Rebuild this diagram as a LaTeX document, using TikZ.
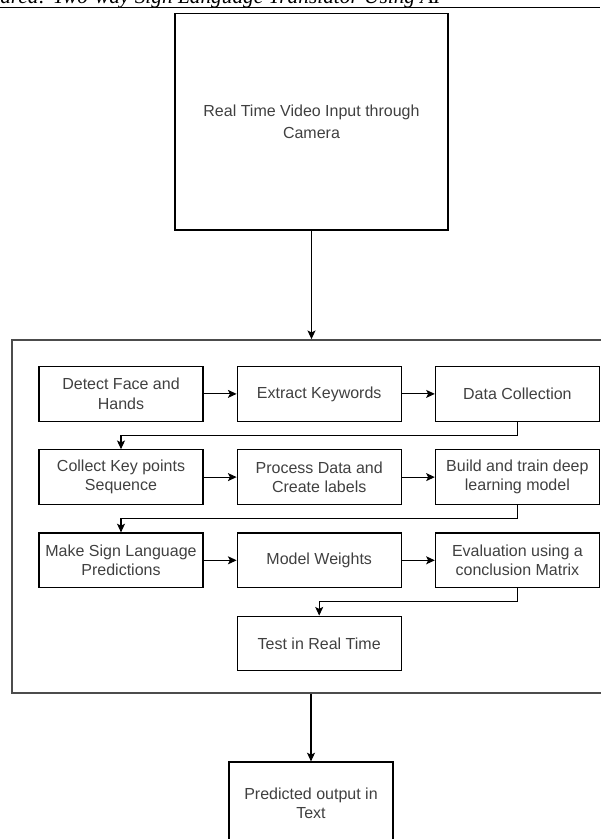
\documentclass[tikz,border=0pt]{standalone}
\usepackage{fontspec}
\setmainfont{Liberation Serif}
\setsansfont{Liberation Sans}
\usetikzlibrary{arrows.meta,positioning}

\begin{document}
\begin{tikzpicture}[
        x=0.75pt, y=-0.75pt,
        node distance=20.5pt and 24.75pt,
        font=\sffamily,
        frame_box/.style={draw=black!70, line width=1.3pt, minimum width=450pt, minimum height=264.75pt},
        step_node/.style={draw, line width=0.9pt, minimum width=123pt, minimum height=41pt, align=center, inner sep=1pt, text=black!75, font=\sffamily\fontsize{12}{14.5}\selectfont},
        arrow/.style={-{Stealth[length=6.5pt, width=6pt, inset=1.5pt]}, line width=0.8pt}
    ]
        \useasboundingbox (0,0) rectangle (600,839);

        % running head of the page
        \node[anchor=base west, inner sep=0pt, font=\rmfamily\itshape\fontsize{16}{18}\selectfont] (runninghead) at (0,3) {ared: Two-way Sign Language Translator Using AI};
        \draw[line width=1pt] (0,7.5) -- (600,7.5);

        \node[step_node, minimum width=204.75pt, minimum height=162.5pt, font=\sffamily\fontsize{12}{16}\selectfont] (camera) at (311.5,121.7) {Real Time Video Input through\\Camera};

        % processing stage
        \node[frame_box] (frame) at (312.3,516.5) {};

        \node[step_node] (detect) at (121,393.9) {Detect Face and\\Hands};
        \node[step_node, right=of detect] (keywords) {Extract Keywords};
        \node[step_node, right=of keywords] (collection) {Data Collection};

        \node[step_node, below=of detect] (keypoints) {Collect Key points\\Sequence};
        \node[step_node, right=of keypoints] (labels) {Process Data and\\Create labels};
        \node[step_node, right=of labels] (model) {Build and train deep\\learning model};

        \node[step_node, below=of keypoints] (predict) {Make Sign Language\\Predictions};
        \node[step_node, right=of predict] (weights) {Model Weights};
        \node[step_node, right=of weights] (matrix) {Evaluation using a\\conclusion Matrix};

        \node[step_node, below=of weights] (realtime) {Test in Real Time};

        \node[step_node, minimum height=61.5pt] (output) at (311,803) {Predicted output in\\Text};

        \draw[arrow] (camera.south) -- (camera.south |- frame.north);

        \draw[arrow] (detect) -- (keywords);
        \draw[arrow] (keywords) -- (collection);
        \draw[arrow] (collection.south) -- ++(0,-10.25pt) -| (keypoints.north);

        \draw[arrow] (keypoints) -- (labels);
        \draw[arrow] (labels) -- (model);
        \draw[arrow] (model.south) -- ++(0,-10.25pt) -| (predict.north);

        \draw[arrow] (predict) -- (weights);
        \draw[arrow] (weights) -- (matrix);
        \draw[arrow] (matrix.south) -- ++(0,-10.25pt) -| (realtime.north);

        \draw[arrow] (frame.south -| output.north) -- (output.north);
    \end{tikzpicture}
\end{document}
